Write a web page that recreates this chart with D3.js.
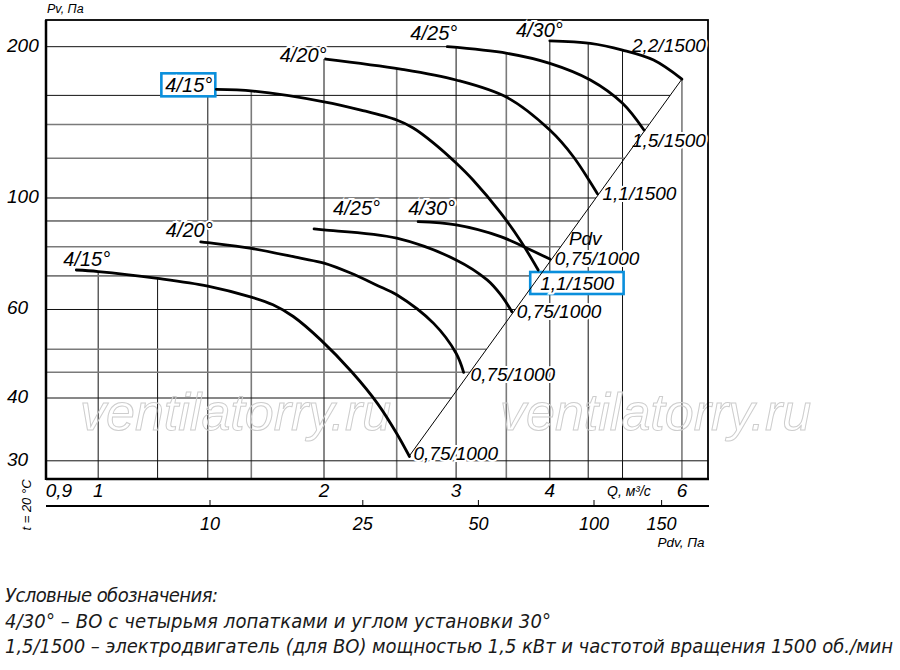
<!DOCTYPE html>
<html>
<head>
<meta charset="utf-8">
<script src="https://cdn.jsdelivr.net/npm/d3@7"></script>
<style>
  body { margin: 0; background: #fff; }
  svg text { font-family: "Liberation Sans", Arial, sans-serif; font-style: italic; fill: #000; }
  .legend text { font-family: "Liberation Sans Narrow", "DejaVu Sans Condensed", sans-serif; fill: #1a1a1a; }
</style>
</head>
<body>
<svg id="chart" width="900" height="670"></svg>
<script>
// grid lines and tick labels
const qGrid = [1, 1.2, 1.4, 1.6, 2, 2.5, 3, 3.5, 4, 4.5, 5, 6];
const qGridGray = [1.6, 2.5, 3.5, 6];
const pGrid = [30, 40, 45, 50, 60, 70, 80, 90, 100, 120, 140, 160, 200];
const pGridGray = [45, 50, 70, 80, 120, 140];
const qTicks = [0.9, 1, 2, 3, 4, 6];
const pTicks = [30, 40, 60, 100, 200];
const pdvTicks = [10, 25, 50, 100, 150];

// fan curves: [Q, m3/s ; Pv, Pa]
const low15 = [[0.935, 71.9], [1.0, 71.4], [1.2, 69.2], [1.4, 66.8], [1.6, 63.5], [1.71, 61.3], [1.82, 58.1], [1.98, 52.2], [2.18, 45.0], [2.36, 38.9], [2.5, 34.0], [2.6, 30.6]];
const low20 = [[1.37, 81.8], [1.4, 81.5], [1.6, 79.4], [1.86, 75.9], [2.0, 74.2], [2.17, 70.9], [2.38, 66.5], [2.5, 64.2], [2.8, 56.3], [3.0, 49.1], [3.07, 45.0]];
const low25 = [[1.94, 86.8], [2.0, 86.4], [2.5, 83.2], [3.0, 75.3], [3.3, 68.7], [3.44, 64.2], [3.56, 59.4]];
const low30 = [[2.67, 89.7], [3.0, 88.4], [3.44, 83.8], [3.65, 80.6], [4.0, 75.6]];
const up15 = [[1.437, 164.5], [1.61, 163.2], [2.0, 155.4], [2.24, 149.6], [2.5, 142.9], [2.63, 137.8], [2.8, 128.6], [3.0, 117.4], [3.16, 108.6], [3.44, 93.4], [3.65, 82.5], [3.86, 71.9]];
const up20 = [[2.01, 189.0], [2.53, 180.5], [3.0, 171.7], [3.51, 158.4], [4.0, 136.5], [4.3, 120.8], [4.63, 101.9]];
const up25 = [[2.92, 200], [3.51, 194.0], [4.0, 185.3], [4.53, 171.7], [5.0, 154.3], [5.34, 136.5]];
const up30 = [[4.0, 205.4], [4.53, 203.0], [5.0, 196.9], [5.5, 188.1], [6.0, 172.4]];

// dynamic pressure line through the curve ends
const pdvLine = [[2.6, 30.7], [6.0, 172.4]];
const pdvLabelP = 80.6;

const angleNames = ['4/15°', '4/20°', '4/25°', '4/30°', '4/15°', '4/20°', '4/25°', '4/30°'];
const motorNames = ['0,75/1000', '0,75/1000', '0,75/1000', '0,75/1000', '1,1/1500', '1,1/1500', '1,5/1500', '2,2/1500'];

const legendLines = [
  'Условные обозначения:',
  '4/30° – ВО с четырьмя лопатками и углом установки 30°',
  '1,5/1500 – электродвигатель (для ВО) мощностью 1,5 кВт и частотой вращения 1500 об./мин'
];

// label placement (pixels, relative to curve start / end)
const angleOffsets = [
  { dx: -13, dy: -4, anchor: 'start' },
  { dx: 12, dy: -5, anchor: 'end' },
  { dx: 19, dy: -14, anchor: 'start' },
  { dx: -10, dy: -7, anchor: 'start' },
  { dx: -4, dy: 3, anchor: 'end', box: true },
  { dx: 1, dy: 3, anchor: 'end' },
  { dx: 10, dy: -7, anchor: 'end' },
  { dx: 13, dy: -4, anchor: 'end' }
];
const motorOffsets = [
  { dx: 4, dy: 4, anchor: 'start' },
  { dx: 7, dy: 9, anchor: 'start' },
  { dx: 5, dy: 6, anchor: 'start' },
  { dx: 5, dy: 6, anchor: 'start' },
  { dx: 2, dy: 20, anchor: 'start', box: true },
  { dx: 5, dy: 6, anchor: 'start' },
  { dx: -12, dy: 17, anchor: 'start' },
  { dx: 24, dy: -27, anchor: 'end' }
];

const curves = [low15, low20, low25, low30, up15, up20, up25, up30].map((pts, i) => ({
  pts: pts, angle: angleNames[i], motor: motorNames[i]
}));

const svg = d3.select('#chart');
const frame = { left: 46, right: 708, top: 20, bottom: 479 };

const x = d3.scaleLog().domain([0.852, 6.5]).range([frame.left, frame.right]);
const y = d3.scaleLog().domain([27.6, 226]).range([frame.bottom, frame.top]);
const pdvScale = d3.scaleLog().domain([10, 100]).range([210, 594]);

// log-log interpolation along a curve
function interp(pts, q) {
  if (q <= pts[0][0]) return pts[0][1];
  if (q >= pts[pts.length - 1][0]) return pts[pts.length - 1][1];
  for (let i = 1; i < pts.length; i++) {
    if (q <= pts[i][0]) {
      const a = pts[i - 1], b = pts[i];
      const t = (Math.log(q) - Math.log(a[0])) / (Math.log(b[0]) - Math.log(a[0]));
      return Math.exp(Math.log(a[1]) + t * (Math.log(b[1]) - Math.log(a[1])));
    }
  }
}
const pdvSlope = (Math.log(pdvLine[1][1]) - Math.log(pdvLine[0][1])) / (Math.log(pdvLine[1][0]) - Math.log(pdvLine[0][0]));
function pdvQ(p) {
  return Math.exp(Math.log(pdvLine[0][0]) + (Math.log(p) - Math.log(pdvLine[0][1])) / pdvSlope);
}

// top of each vertical grid line = highest curve at that Q
function envelope(q) {
  let top = 0;
  curves.forEach(c => {
    const q0 = c.pts[0][0], q1 = c.pts[c.pts.length - 1][0];
    if (q >= q0 / 1.03 && q <= q1 * 1.03) top = Math.max(top, interp(c.pts, q));
  });
  return top;
}
// right end of each horizontal grid line
function rightEnd(p) {
  if (p <= pdvLine[0][1]) return x.invert(frame.right);
  if (p <= pdvLine[1][1]) return pdvQ(p);
  const starts = curves.filter(c => c.pts[0][1] >= p).map(c => c.pts[0][0]);
  return d3.min(starts);
}

// grid
const grid = svg.append('g').attr('class', 'grid');
grid.selectAll('line.v').data(qGrid).join('line')
  .attr('class', 'v')
  .attr('x1', d => x(d)).attr('x2', d => x(d))
  .attr('y1', frame.bottom).attr('y2', d => y(envelope(d)))
  .attr('stroke', d => qGridGray.includes(d) ? '#7a7a7a' : '#111')
  .attr('stroke-width', d => qGridGray.includes(d) ? 1.6 : 1);
grid.selectAll('line.h').data(pGrid).join('line')
  .attr('class', 'h')
  .attr('x1', frame.left).attr('x2', d => x(rightEnd(d)))
  .attr('y1', d => y(d)).attr('y2', d => y(d))
  .attr('stroke', d => pGridGray.includes(d) ? '#7a7a7a' : '#111')
  .attr('stroke-width', d => pGridGray.includes(d) ? 1.6 : 1);

// watermark
svg.append('g').selectAll('text').data([80, 500]).join('text')
  .attr('x', d => d).attr('y', 430)
  .attr('font-size', 52)
  .style('fill', 'none').attr('stroke', '#cdcdcd').attr('stroke-width', 1)
  .text('ventilatorry.ru');

// frame
svg.append('rect')
  .attr('x', frame.left).attr('y', frame.top)
  .attr('width', frame.right - frame.left).attr('height', frame.bottom - frame.top)
  .attr('fill', 'none').attr('stroke', '#000').attr('stroke-width', 1.8);
svg.append('line')
  .attr('x1', frame.left).attr('x2', frame.left).attr('y1', frame.top).attr('y2', frame.bottom + 1)
  .attr('stroke', '#000').attr('stroke-width', 2.5);
svg.append('line')
  .attr('x1', frame.left).attr('x2', frame.right + 1).attr('y1', frame.bottom).attr('y2', frame.bottom)
  .attr('stroke', '#000').attr('stroke-width', 2.5);

// labels (drawn before curves, white halo breaks the grid)
const labels = svg.append('g').attr('class', 'labels');
function addLabel(txt, px, py, off, size) {
  const t = labels.append('text')
    .attr('x', px + off.dx).attr('y', py + off.dy)
    .attr('text-anchor', off.anchor)
    .attr('font-size', size)
    .attr('stroke', '#fff').attr('stroke-width', 4).attr('paint-order', 'stroke')
    .text(txt);
  if (off.box) {
    const b = t.node().getBBox();
    const padL = size > 19 ? 4 : 10, padR = size > 19 ? 3 : 9;
    labels.insert('rect', 'text')
      .attr('x', b.x - padL).attr('y', b.y - 1)
      .attr('width', b.width + padL + padR).attr('height', b.height + 1)
      .attr('fill', '#fff').attr('stroke', '#0a8fdc').attr('stroke-width', 2.6);
  }
}
curves.forEach((c, i) => {
  const s = c.pts[0], e = c.pts[c.pts.length - 1];
  addLabel(c.angle, x(s[0]), y(s[1]), angleOffsets[i], 20);
  addLabel(c.motor, x(e[0]), y(e[1]), motorOffsets[i], 19);
});
labels.append('text')
  .attr('x', x(pdvQ(pdvLabelP)) + 7).attr('y', y(pdvLabelP))
  .attr('font-size', 19)
  .text('Pdv');

// curves
const line = d3.line().x(d => x(d[0])).y(d => y(d[1])).curve(d3.curveCatmullRom.alpha(0.5));
svg.append('g').selectAll('path').data(curves).join('path')
  .attr('d', d => line(d.pts))
  .attr('fill', 'none').attr('stroke', '#000').attr('stroke-width', 2.8)
  .attr('stroke-linecap', 'round');

svg.append('path')
  .attr('d', d3.line().x(d => x(d[0])).y(d => y(d[1]))(pdvLine))
  .attr('stroke', '#000').attr('stroke-width', 1).attr('fill', 'none');

// Y ticks
svg.append('g').selectAll('text').data(pTicks).join('text')
  .attr('x', 7).attr('y', d => y(d) + 5)
  .attr('font-size', 19)
  .text(d => d);
svg.append('text').attr('x', 47).attr('y', 13).attr('font-size', 12.5).text('Pv, Па');

// Q ticks
svg.append('g').selectAll('text').data(qTicks).join('text')
  .attr('x', d => x(d) + (d < 1 ? -5 : 0)).attr('y', 497)
  .attr('text-anchor', 'middle')
  .attr('font-size', 19)
  .text(d => String(d).replace('.', ','));
svg.append('text').attr('x', x(5.1)).attr('y', 496)
  .attr('text-anchor', 'middle').attr('font-size', 14)
  .text('Q, м³/с');

// Pdv axis
const pdvAxisY = 506;
svg.append('line')
  .attr('x1', frame.left).attr('x2', 709).attr('y1', pdvAxisY).attr('y2', pdvAxisY)
  .attr('stroke', '#000').attr('stroke-width', 2);
svg.append('g').selectAll('line').data(pdvTicks).join('line')
  .attr('x1', d => pdvScale(d)).attr('x2', d => pdvScale(d))
  .attr('y1', pdvAxisY - 6).attr('y2', pdvAxisY)
  .attr('stroke', '#000').attr('stroke-width', 1);
svg.append('g').selectAll('text').data(pdvTicks).join('text')
  .attr('x', d => pdvScale(d)).attr('y', 530)
  .attr('text-anchor', 'middle').attr('font-size', 18)
  .text(d => d);
svg.append('text').attr('x', 681).attr('y', 547)
  .attr('text-anchor', 'middle').attr('font-size', 13.5)
  .text('Pdv, Па');

svg.append('text')
  .attr('transform', 'translate(31,505) rotate(-90)')
  .attr('text-anchor', 'middle').attr('font-size', 13)
  .text('t = 20 °C');

// legend
const legendWidths = [213, 546, 888];
svg.append('g').attr('class', 'legend').selectAll('text').data(legendLines).join('text')
  .attr('x', 5).attr('y', (d, i) => 602 + i * 25.5)
  .attr('font-size', 20)
  .attr('textLength', (d, i) => legendWidths[i])
  .attr('lengthAdjust', 'spacing')
  .text(d => d);
</script>
</body>
</html>
